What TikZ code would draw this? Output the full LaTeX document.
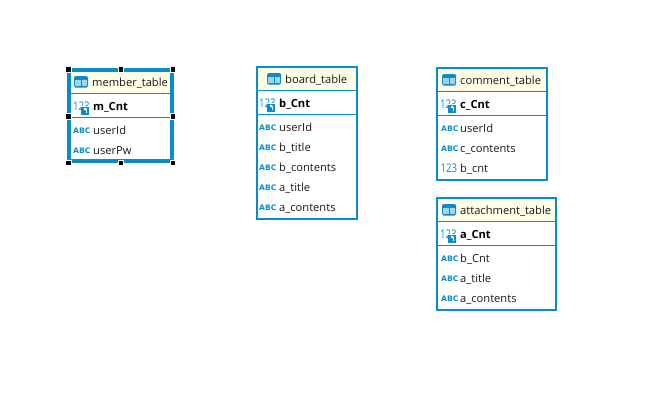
\documentclass[tikz,border=0pt]{standalone}
\usepackage{fontspec}
\setmainfont{Open Sans}
\newfontfamily\abcfont{DejaVu Sans}
\definecolor{erblue}{HTML}{0A8CCB}
\definecolor{erhead}{HTML}{FFFDE6}
\definecolor{ertext}{HTML}{1A1A1A}
\tikzset{
  x=1pt,y=-1pt,
  tablebox/.style={draw=erblue,line width=2pt,fill=white},
  headbox/.style={fill=erhead},
  rule/.style={draw=erblue,line width=1pt},
  label/.style={anchor=base west,inner sep=0pt,font=\fontsize{11.15}{13}\selectfont,text=ertext},
  keylabel/.style={label,font=\fontsize{11.15}{13}\selectfont\bfseries,text=black},
  abc/.style={anchor=base west,inner sep=0pt,text=erblue,font=\abcfont\fontsize{7.6}{9}\selectfont\bfseries},
  num/.style={anchor=base west,inner sep=0pt,text=erblue,font=\fontsize{12}{13}\selectfont},
  handle/.style={fill=black,draw=white,line width=.5pt,minimum size=5.5pt,inner sep=0pt,shape=rectangle},
}
% #1 x (left of icon), #2 y (centre)
\newcommand{\tblicon}[2]{%
  \fill[erblue,rounded corners=1.5pt] (#1,#2-6) rectangle ++(14,11.5);
  \fill[white!62!erblue] (#1+1.2,#2-2.3) rectangle ++(5.3,2.8);
  \fill[white!62!erblue] (#1+7.5,#2-2.3) rectangle ++(5.3,2.8);
  \fill[white!62!erblue] (#1+1.2,#2+1.2) rectangle ++(5.3,3.1);
  \fill[white!62!erblue] (#1+7.5,#2+1.2) rectangle ++(5.3,3.1);
}
\newcommand{\keyicon}[2]{%
  \node[num] at (#1,#2+4) {\scalebox{.8}[1]{123}};
  \fill[white] (#1+7.8,#2+0.2) rectangle ++(8.6,8.6);
  \fill[erblue] (#1+8.3,#2+0.7) rectangle ++(7.8,8);
  \fill[white] (#1+12.2,#2+3) circle (1.5pt);
  \fill[white] (#1+12.6,#2+3) rectangle ++(1.1,4);
}
\begin{document}
\begin{tikzpicture}
\useasboundingbox (0,0) rectangle (663,410);
\fill[white] (0,0) rectangle (663,410);

% member_table
\draw[erblue,line width=4pt,fill=white] (69.2,70) rectangle (172,160.7);
\fill[erhead] (71.2,72) rectangle (170,93);
\draw[rule] (71.2,93.5) -- (170,93.5);
\draw[rule] (71.2,117.5) -- (170,117.5);
\tblicon{74}{82}
\node[label] (mt) at (92,86) {member\_table};
\keyicon{73}{106}
\node[keylabel] (mk) at (93,110) {m\_Cnt};
\node[abc] (ma1) at (73,133) {ABC};
\node[label] (m1) at (93,134) {userId};
\node[abc] (ma2) at (73,153) {ABC};
\node[label] (m2) at (93,154) {userPw};
\foreach \nx/\ny [count=\i] in {68.3/69,120.5/69,172.7/69,68.3/116,172.7/116,68.3/162.7,120.5/162.7,172.7/162.7}
  \node[handle] (h\i) at (\nx,\ny) {};

% board_table
\draw[tablebox] (256.5,67) rectangle (356.7,218.5);
\fill[erhead] (257.5,68) rectangle (355.7,90);
\draw[rule] (257.5,90.5) -- (355.7,90.5);
\draw[rule] (257.5,114.5) -- (355.7,114.5);
\tblicon{267}{79}
\node[label] (bt) at (285,83) {board\_table};
\keyicon{259}{103}
\node[keylabel] (bk) at (279,107) {b\_Cnt};
\foreach \yy/\tt/\n in {131/userId/1,151/b\_title/2,171/b\_contents/3,191/a\_title/4,211/a\_contents/5}{
  \node[abc] (ba\n) at (259,\yy-1) {ABC};
  \node[label] (b\n) at (279,\yy) {\tt};
}

% comment_table
\draw[tablebox] (437,68) rectangle (546.7,179.5);
\fill[erhead] (438,69) rectangle (545.7,91);
\draw[rule] (438,91.5) -- (545.7,91.5);
\draw[rule] (438,115.5) -- (545.7,115.5);
\tblicon{442}{80}
\node[label] (ct) at (460,84) {comment\_table};
\keyicon{440}{104}
\node[keylabel] (ck) at (460,108) {c\_Cnt};
\node[abc] (ca1) at (441,131) {ABC};
\node[label] (c1) at (460,132) {userId};
\node[abc] (ca2) at (441,151) {ABC};
\node[label] (c2) at (460,152) {c\_contents};
\node[num] (ca3) at (440.5,172) {\scalebox{.8}[1]{123}};
\node[label] (c3) at (460,172) {b\_cnt};

% attachment_table
\draw[tablebox] (437,198) rectangle (555.5,309.5);
\fill[erhead] (438,199) rectangle (554.5,221);
\draw[rule] (438,221.5) -- (554.5,221.5);
\draw[rule] (438,245.5) -- (554.5,245.5);
\tblicon{442}{210}
\node[label] (at) at (460,214) {attachment\_table};
\keyicon{440}{234}
\node[keylabel] (ak) at (460,238) {a\_Cnt};
\foreach \yy/\tt/\n in {262/b\_Cnt/1,282/a\_title/2,302/a\_contents/3}{
  \node[abc] (aa\n) at (441,\yy-1) {ABC};
  \node[label] (a\n) at (460,\yy) {\tt};
}
\end{tikzpicture}
\end{document}
